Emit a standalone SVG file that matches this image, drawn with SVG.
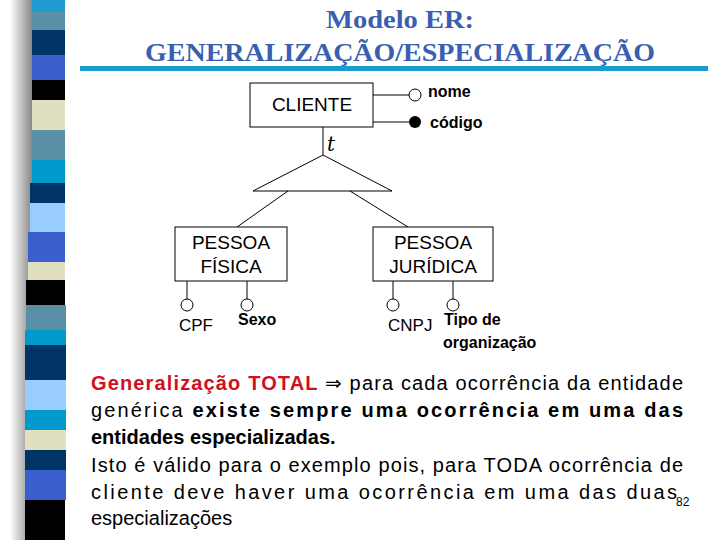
<svg xmlns="http://www.w3.org/2000/svg" width="720" height="540" viewBox="0 0 720 540">
<defs>
<linearGradient id="sh" x1="0" x2="1"><stop offset="0" stop-color="#fff"/><stop offset="1" stop-color="#888"/></linearGradient>
</defs>
<style>
.b{fill:#fff;stroke:#000;stroke-width:1}
.l{stroke:#000;stroke-width:1;fill:none}
.c{fill:#fff;stroke:#000;stroke-width:1}
.n{font-family:"Liberation Sans",Arial,sans-serif;font-size:19px;text-anchor:middle;fill:#000}
.a{font-family:"Liberation Sans",Arial,sans-serif;font-size:16px;font-weight:bold;fill:#000}
.p{font-family:"Liberation Sans",Arial,sans-serif;font-size:17px;fill:#000}
.t{font-family:"Liberation Sans",Arial,sans-serif;font-size:20px;fill:#000}
.bd{font-weight:bold}
</style>
<rect width="720" height="540" fill="#fff"/>
<g id="strip">
<rect x="10" y="0" width="22" height="540" fill="url(#sh)"/>
<rect x="32" y="0" width="33" height="12" fill="#1f9bd0"/>
<rect x="32" y="12" width="33" height="18" fill="#5a8fa8"/>
<rect x="32" y="30" width="33" height="25" fill="#003366"/>
<rect x="32" y="55" width="33" height="25" fill="#3a5fcd"/>
<rect x="32" y="80" width="33" height="20" fill="#000"/>
<rect x="32" y="100" width="33" height="30" fill="#e0e0c0"/>
<rect x="32" y="130" width="33" height="30" fill="#5a8fa8"/>
<rect x="32" y="160" width="33" height="23" fill="#0099cc"/>
<rect x="30" y="183" width="35" height="20" fill="#003366"/>
<rect x="30" y="203" width="35" height="29" fill="#99ccff"/>
<rect x="28" y="232" width="37" height="30" fill="#3a5fcd"/>
<rect x="28" y="262" width="37" height="18" fill="#e0e0c0"/>
<rect x="26" y="280" width="39" height="25" fill="#000"/>
<rect x="26" y="305" width="40" height="25" fill="#5a8fa8"/>
<rect x="25" y="330" width="41" height="15" fill="#0099cc"/>
<rect x="25" y="345" width="41" height="35" fill="#003366"/>
<rect x="25" y="380" width="41" height="30" fill="#99ccff"/>
<rect x="25" y="410" width="41" height="20" fill="#0099cc"/>
<rect x="25" y="430" width="41" height="20" fill="#e0e0c0"/>
<rect x="25" y="450" width="41" height="20" fill="#003366"/>
<rect x="25" y="470" width="41" height="30" fill="#3a5fcd"/>
<rect x="25" y="500" width="40" height="40" fill="#000"/>
</g>
<g id="title" font-family="'Liberation Serif','Times New Roman',serif" fill="#3a5fb0" text-anchor="middle" font-weight="bold">
<text x="400" y="28" font-size="25" textLength="148" lengthAdjust="spacingAndGlyphs">Modelo ER:</text>
<text x="400" y="61" font-size="25" textLength="510" lengthAdjust="spacingAndGlyphs">GENERALIZAÇÃO/ESPECIALIZAÇÃO</text>
<rect x="80" y="66" width="628" height="5" fill="#1a9bd0"/>
</g>
<g id="connectors">
<path class="l" d="M373 95H409M373 122H409M323 127V155M288 191L237 227M350 191L408 227M187 281V299M247 281V299M393 281V299M453 281V299"/>
<path class="l" d="M323 155L253 191H392Z"/>
</g>
<g id="cliente"><rect class="b" x="250" y="83" width="123" height="44"/><text class="n" x="312" y="111">CLIENTE</text></g>
<g id="t"><text x="327" y="151" font-family="'DejaVu Serif',serif" font-style="italic" font-size="20">t</text></g>
<g id="nome"><circle class="c" cx="415" cy="95" r="6"/><text class="a" x="428" y="97">nome</text></g>
<g id="codigo"><circle cx="415" cy="122" r="6" fill="#000"/><text class="a" x="430" y="128">código</text></g>
<g id="pf"><rect class="b" x="175" y="227" width="112" height="54"/><text class="n" x="231" y="249">PESSOA</text><text class="n" x="231" y="273">FÍSICA</text></g>
<g id="pj"><rect class="b" x="373" y="227" width="120" height="54"/><text class="n" x="433" y="249">PESSOA</text><text class="n" x="433" y="273">JURÍDICA</text></g>
<g id="cpf"><circle class="c" cx="187" cy="305" r="6"/><text class="p" x="179" y="331">CPF</text></g>
<g id="sexo"><circle class="c" cx="247" cy="305" r="6"/><text class="a" x="238" y="325">Sexo</text></g>
<g id="cnpj"><circle class="c" cx="393" cy="305" r="6"/><text class="p" x="388" y="331">CNPJ</text></g>
<g id="tipo"><circle class="c" cx="453" cy="305" r="6"/><text class="a" x="444" y="325">Tipo de</text><text class="a" x="443" y="348">organização</text></g>
<g id="body">
<text class="t" x="91" y="390" textLength="592" lengthAdjust="spacing"><tspan fill="#d0101e" class="bd">Generalização TOTAL </tspan><tspan font-family="'DejaVu Sans',sans-serif">⇒</tspan> para cada ocorrência da entidade</text>
<text class="t" x="91" y="417" textLength="592" lengthAdjust="spacing">genérica <tspan class="bd">existe sempre uma ocorrência em uma  das</tspan></text>
<text class="t bd" x="91" y="444">entidades especializadas.</text>
<text class="t" x="91" y="472" textLength="592" lengthAdjust="spacing">Isto é válido para o exemplo pois, para TODA ocorrência de</text>
<text class="t" x="91" y="499" textLength="586" lengthAdjust="spacing">cliente deve haver uma ocorrência em uma das duas</text>
<text x="676" y="506" font-family="'Liberation Sans',Arial,sans-serif" font-size="12">82</text>
<text class="t" x="91" y="525">especializações</text>
</g>
</svg>
